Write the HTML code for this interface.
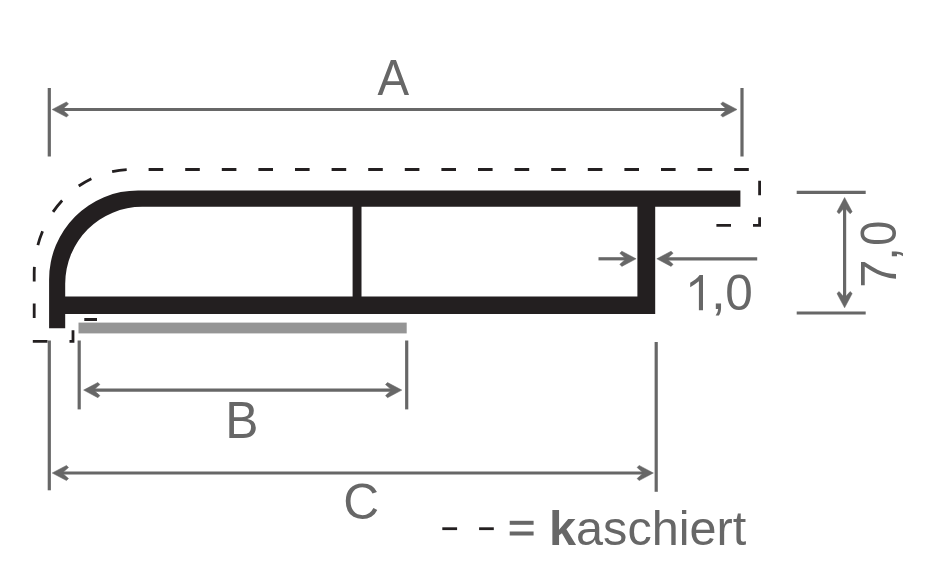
<!DOCTYPE html>
<html><head><meta charset="utf-8"><style>
html,body{margin:0;padding:0;background:#fff;}
body{width:925px;height:575px;overflow:hidden;}
svg{display:block;font-family:"Liberation Sans",sans-serif;}
svg{will-change:transform;}
</style></head><body>
<svg width="925" height="575" viewBox="0 0 925 575">
<rect width="925" height="575" fill="#fff"/>
<line x1="49.3" y1="88" x2="49.3" y2="156.5" stroke="#676767" stroke-width="3.2"/>
<line x1="742" y1="88" x2="742" y2="156.5" stroke="#676767" stroke-width="3.2"/>
<line x1="58" y1="109.5" x2="732" y2="109.5" stroke="#676767" stroke-width="3.2"/>
<polygon points="52.20,109.50 66.50,101.90 68.50,104.00 62.20,109.50 68.50,115.00 66.50,117.10" fill="#676767" stroke="#676767" stroke-width="0.5" stroke-linejoin="round"/>
<polygon points="737.00,109.50 722.70,117.10 720.70,115.00 727.00,109.50 720.70,104.00 722.70,101.90" fill="#676767" stroke="#676767" stroke-width="0.5" stroke-linejoin="round"/>
<text transform="translate(377.56 94.90) scale(0.4742 0.5080)" font-size="100" fill="#676767">A</text>
<path d="M49.1 328.3 L49.1 279.4 A89 89 0 0 1 138.1 190.4 L740.4 190.4 L740.4 206.8 L655.2 206.8 L655.2 314.0 L65.2 314.0 L65.2 328.3 Z M65.2 296.5 L65.2 283.8 A77 77 0 0 1 142.2 206.8 L352.6 206.8 L352.6 296.5 Z M361.5 206.8 L637.4 206.8 L637.4 296.5 L361.5 296.5 Z" fill="#231f20" fill-rule="evenodd"/>
<path d="M716.4 225.3 L759.6 225.3 L759.6 169.5 L131 169.5 A97 104 0 0 0 34.2 273.5 L34.2 341.3 L73 341.3 L73 319.5 L97 319.5" fill="none" stroke="#231f20" stroke-width="2.8" stroke-dasharray="14.6 22"/>
<rect x="78.5" y="322.6" width="328.2" height="10.8" fill="#959595"/>
<line x1="598.5" y1="258.8" x2="630" y2="258.8" stroke="#676767" stroke-width="3.2"/>
<polygon points="636.10,258.80 621.80,266.40 619.80,264.30 626.10,258.80 619.80,253.30 621.80,251.20" fill="#676767" stroke="#676767" stroke-width="0.5" stroke-linejoin="round"/>
<line x1="662" y1="258.8" x2="757.2" y2="258.8" stroke="#676767" stroke-width="3.2"/>
<polygon points="656.80,258.80 671.10,251.20 673.10,253.30 666.80,258.80 673.10,264.30 671.10,266.40" fill="#676767" stroke="#676767" stroke-width="0.5" stroke-linejoin="round"/>
<path d="M703 275 L703 310.2 L698.9 310.2 L698.9 281.2 C696 283.6 693 285.6 690.2 287.2 L690.2 282.8 C694 280.6 697.5 278 699.6 275 Z" fill="#676767"/>
<text transform="translate(710.70 309.29) scale(0.5474 0.5130)" font-size="100" fill="#676767">,</text>
<text transform="translate(725.32 310.10) scale(0.4947 0.5000)" font-size="100" fill="#676767">0</text>
<line x1="796.7" y1="192.4" x2="865.7" y2="192.4" stroke="#676767" stroke-width="3.2"/>
<line x1="796.7" y1="313" x2="865.7" y2="313" stroke="#676767" stroke-width="3.2"/>
<line x1="844.6" y1="203" x2="844.6" y2="302" stroke="#676767" stroke-width="3.2"/>
<polygon points="844.60,197.50 852.20,211.80 850.10,213.80 844.60,207.50 839.10,213.80 837.00,211.80" fill="#676767" stroke="#676767" stroke-width="0.5" stroke-linejoin="round"/>
<polygon points="844.60,307.80 837.00,293.50 839.10,291.50 844.60,297.80 850.10,291.50 852.20,293.50" fill="#676767" stroke="#676767" stroke-width="0.5" stroke-linejoin="round"/>
<text transform="translate(896.10 287.84) rotate(-90) scale(0.5077 0.4986)" font-size="100" fill="#676767">7</text>
<text transform="translate(896.78 260.70) rotate(-90) scale(0.4947 0.4739)" font-size="100" fill="#676767">,</text>
<text transform="translate(896.30 245.69) rotate(-90) scale(0.4484 0.4972)" font-size="100" fill="#676767">0</text>
<line x1="79.2" y1="340.5" x2="79.2" y2="409.4" stroke="#676767" stroke-width="3.2"/>
<line x1="406.7" y1="340.5" x2="406.7" y2="409.4" stroke="#676767" stroke-width="3.2"/>
<line x1="90" y1="390.1" x2="396" y2="390.1" stroke="#676767" stroke-width="3.2"/>
<polygon points="83.60,390.10 97.90,382.50 99.90,384.60 93.60,390.10 99.90,395.60 97.90,397.70" fill="#676767" stroke="#676767" stroke-width="0.5" stroke-linejoin="round"/>
<polygon points="401.80,390.10 387.50,397.70 385.50,395.60 391.80,390.10 385.50,384.60 387.50,382.50" fill="#676767" stroke="#676767" stroke-width="0.5" stroke-linejoin="round"/>
<text transform="translate(225.32 438.00) scale(0.4972 0.5145)" font-size="100" fill="#676767">B</text>
<line x1="49.3" y1="340.5" x2="49.3" y2="490.3" stroke="#676767" stroke-width="3.2"/>
<line x1="656.2" y1="342" x2="656.2" y2="491.8" stroke="#676767" stroke-width="3.2"/>
<line x1="58" y1="473" x2="648" y2="473" stroke="#676767" stroke-width="3.2"/>
<polygon points="52.20,473.00 66.50,465.40 68.50,467.50 62.20,473.00 68.50,478.50 66.50,480.60" fill="#676767" stroke="#676767" stroke-width="0.5" stroke-linejoin="round"/>
<polygon points="653.40,473.00 639.10,480.60 637.10,478.50 643.40,473.00 637.10,467.50 639.10,465.40" fill="#676767" stroke="#676767" stroke-width="0.5" stroke-linejoin="round"/>
<text transform="translate(343.22 519.39) scale(0.4968 0.5070)" font-size="100" fill="#676767">C</text>
<line x1="442.3" y1="528.7" x2="457.1" y2="528.7" stroke="#231f20" stroke-width="2.8"/>
<line x1="479.1" y1="528.7" x2="493.8" y2="528.7" stroke="#231f20" stroke-width="2.8"/>
<rect x="509.7" y="520.8" width="23.9" height="4" fill="#676767"/>
<rect x="509.7" y="531.5" width="23.9" height="4" fill="#676767"/>
<text transform="translate(549.00 544.93) scale(0.4862 0.4748)" font-size="100" fill="#676767"><tspan font-weight="bold">k</tspan>aschiert</text>
</svg>
</body></html>
